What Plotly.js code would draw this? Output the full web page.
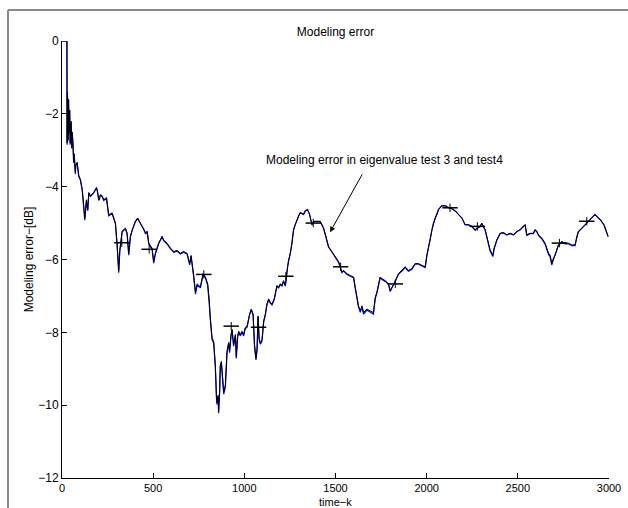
<!DOCTYPE html>
<html>
<head>
<meta charset="utf-8">
<script src="https://cdn.plot.ly/plotly-3.0.1.min.js"></script>
<style>html,body{margin:0;padding:0;background:#fff;}#plot{width:628px;height:508px;}</style>
</head>
<body>
<div id="plot"></div>
<script>
// ---- data ----
const timeK = [0,27,28,30,33,36,39,42,45,48,
50,53,56,60,64,67,70,73,76,83,
92,101,111,119,125,134,141,147,156,174,
189,193,202,211,220,229,244,256,275,284,
293,302,311,317,330,348,357,366,375,385,
403,415,430,448,458,467,476,494,503,512,
530,549,558,576,595,613,631,649,667,686,
700,708,722,732,741,759,774,786,799,808,
814,823,832,837,841,847,850,856,859,865,
868,874,881,887,896,901,905,914,919,927,
933,941,951,956,963,969,978,987,996,1005,
1015,1029,1038,1048,1051,1056,1064,1070,1075,1081,
1088,1097,1106,1115,1124,1133,1142,1152,1164,1172,
1179,1188,1197,1207,1215,1225,1230,1237,1243,1252,
1261,1270,1279,1289,1298,1307,1325,1334,1347,1358,
1371,1380,1398,1416,1435,1453,1462,1481,1499,1517,
1526,1535,1544,1563,1581,1599,1608,1618,1626,1636,
1645,1654,1672,1690,1708,1718,1727,1745,1755,1773,
1791,1800,1818,1827,1845,1864,1882,1900,1919,1937,
1955,1974,1992,2001,2010,2019,2029,2037,2047,2056,
2065,2083,2101,2119,2138,2156,2174,2193,2211,2229,
2248,2266,2275,2293,2302,2311,2321,2330,2339,2348,
2363,2370,2385,2403,2421,2439,2458,2476,2494,2512,
2530,2540,2549,2567,2585,2595,2604,2613,2631,2649,
2659,2668,2677,2686,2695,2704,2713,2722,2741,2759,
2777,2796,2814,2823,2832,2850,2868,2887,2905,2923,
2941,2951,2973,2995];

// eigenvalue test 4 (black)
const errTest4 = [0,0,-2.8,-1.4,-2.7,-1.6,-2.5,-1.9,-2.8,-2.3,
-2.2,-2.9,-2.5,-2.8,-3.3,-3.1,-3.3,-3.6,-3.4,-3.33,
-3.69,-3.8,-4.08,-4.44,-4.86,-4.36,-4.64,-4.16,-4.25,-4.16,
-4.02,-4.08,-4.36,-4.22,-4.25,-4.36,-4.3,-4.77,-4.72,-4.86,
-5.0,-5.55,-6.3,-5.75,-5.22,-5.14,-5.27,-5.83,-5.36,-5.19,
-4.94,-4.86,-5.0,-5.14,-5.27,-5.22,-5.55,-5.69,-6.05,-5.83,
-5.55,-5.36,-5.47,-5.55,-5.69,-5.78,-5.75,-5.83,-5.78,-5.83,
-6.11,-5.89,-6.39,-6.89,-6.67,-6.75,-6.39,-6.47,-6.67,-7.14,
-7.69,-8.15,-8.25,-8.62,-8.9,-9.73,-9.92,-9.73,-10.15,-9.54,
-8.9,-8.8,-9.26,-9.64,-9.45,-8.9,-8.52,-8.28,-8.52,-8.06,
-7.92,-8.34,-8.06,-8.66,-8.11,-7.97,-8.06,-7.97,-8.06,-7.87,
-7.83,-7.5,-7.36,-7.5,-7.87,-8.34,-8.71,-8.43,-7.55,-8.15,
-8.29,-8.2,-7.69,-7.5,-7.22,-7.08,-7.18,-7.22,-7.08,-6.81,
-6.71,-6.76,-6.67,-6.71,-6.58,-6.71,-6.44,-6.2,-6.02,-5.83,
-5.55,-5.18,-5.04,-4.9,-4.81,-4.72,-4.77,-4.67,-4.64,-4.77,
-5.04,-4.95,-4.95,-4.95,-5.14,-5.46,-5.65,-5.79,-5.92,-6.06,
-6.2,-6.34,-6.3,-6.39,-6.44,-6.48,-6.76,-7.04,-7.27,-7.41,
-7.27,-7.46,-7.36,-7.41,-7.46,-7.04,-6.9,-6.48,-6.53,-6.58,
-6.67,-6.85,-6.67,-6.62,-6.39,-6.3,-6.2,-6.3,-6.25,-6.11,
-6.11,-6.16,-6.2,-5.88,-5.69,-5.46,-5.18,-5.0,-4.86,-4.77,
-4.63,-4.53,-4.53,-4.58,-4.61,-4.67,-4.77,-4.86,-5.04,-5.04,
-5.09,-5.18,-5.14,-5.09,-5.0,-5.09,-5.18,-5.37,-5.6,-5.74,
-5.88,-5.69,-5.46,-5.28,-5.26,-5.32,-5.28,-5.32,-5.23,-5.18,
-5.09,-5.04,-5.32,-5.28,-5.28,-5.18,-5.23,-5.32,-5.41,-5.55,
-5.69,-5.83,-5.88,-6.11,-5.97,-5.88,-5.74,-5.6,-5.51,-5.55,
-5.55,-5.6,-5.6,-5.37,-5.23,-5.14,-5.04,-4.95,-4.86,-4.77,
-4.86,-4.9,-5.05,-5.36];

// eigenvalue test 3 (blue), nearly identical, peeks out at the dips
const errTest3 = [0,0,-2.85,-1.45,-2.75,-1.6,-2.55,-1.9,-2.85,-2.3,
-2.25,-2.95,-2.5,-2.85,-3.35,-3.1,-3.35,-3.65,-3.4,-3.35,
-3.72,-3.82,-4.1,-4.48,-4.92,-4.38,-4.66,-4.18,-4.27,-4.17,
-4.04,-4.1,-4.38,-4.24,-4.27,-4.38,-4.32,-4.8,-4.74,-4.88,
-5.02,-5.6,-6.36,-5.78,-5.24,-5.16,-5.3,-5.88,-5.38,-5.2,
-4.96,-4.88,-5.02,-5.16,-5.3,-5.24,-5.58,-5.72,-6.1,-5.85,
-5.57,-5.38,-5.49,-5.57,-5.71,-5.8,-5.77,-5.85,-5.8,-5.85,
-6.15,-5.91,-6.43,-6.95,-6.7,-6.78,-6.41,-6.5,-6.7,-7.2,
-7.75,-8.2,-8.3,-8.68,-8.96,-9.8,-9.98,-9.78,-10.22,-9.6,
-8.95,-8.84,-9.32,-9.7,-9.5,-8.94,-8.56,-8.3,-8.56,-8.1,
-7.95,-8.38,-8.1,-8.72,-8.14,-8.0,-8.1,-8.0,-8.1,-7.9,
-7.86,-7.52,-7.38,-7.52,-7.9,-8.4,-8.76,-8.48,-7.58,-8.2,
-8.33,-8.24,-7.72,-7.53,-7.25,-7.1,-7.2,-7.25,-7.1,-6.83,
-6.73,-6.78,-6.69,-6.73,-6.6,-6.73,-6.46,-6.22,-6.03,-5.84,
-5.56,-5.19,-5.05,-4.9,-4.8,-4.71,-4.76,-4.66,-4.63,-4.76,
-5.05,-4.96,-4.96,-4.96,-5.15,-5.47,-5.66,-5.8,-5.93,-6.08,
-6.22,-6.36,-6.32,-6.41,-6.46,-6.5,-6.78,-7.07,-7.3,-7.45,
-7.3,-7.5,-7.39,-7.44,-7.5,-7.07,-6.92,-6.5,-6.55,-6.6,
-6.69,-6.88,-6.69,-6.64,-6.41,-6.32,-6.22,-6.32,-6.27,-6.13,
-6.13,-6.18,-6.22,-5.9,-5.7,-5.47,-5.19,-5.0,-4.86,-4.76,
-4.62,-4.52,-4.52,-4.57,-4.6,-4.66,-4.76,-4.86,-5.05,-5.05,
-5.1,-5.2,-5.15,-5.1,-5.01,-5.1,-5.2,-5.39,-5.63,-5.77,
-5.92,-5.71,-5.47,-5.29,-5.27,-5.33,-5.29,-5.33,-5.24,-5.19,
-5.1,-5.05,-5.34,-5.29,-5.29,-5.19,-5.24,-5.34,-5.43,-5.57,
-5.72,-5.86,-5.92,-6.15,-6.0,-5.9,-5.76,-5.62,-5.52,-5.57,
-5.57,-5.62,-5.62,-5.38,-5.24,-5.15,-5.05,-4.95,-4.85,-4.76,
-4.86,-4.9,-5.06,-5.38];

// '+' markers visible on the curve
const markK = [328,478,778,928,1078,1228,1378,1528,1828,2128,2278,2728,2878];
const markV = [-5.54,-5.72,-6.41,-7.83,-7.86,-6.46,-5.0,-6.2,-6.67,-4.58,-5.09,-5.55,-4.95];

const xTicks = [0,500,1000,1500,2000,2500,3000];
const yTicks = [-12,-10,-8,-6,-4,-2,0];

const chartTitle = 'Modeling error';
const xTitle = 'time\u2212k';
const yTitle = 'Modeling error\u2212[dB]';
const noteText = 'Modeling error in eigenvalue test 3 and test4';
const noteAt = {k: 1771, v: -3.28};
const arrowTip = {k: 1470, v: -5.25};
const arrowTail = {k: 1651, v: -3.62};

// ---- layout geometry (pixels) ----
const W = 628, H = 508;
const M = {l: 62, r: 19, t: 41, b: 30};
const pw = W - M.l - M.r, ph = H - M.t - M.b;
const pxX = p => (p - M.l) / pw;
const pxY = p => (H - M.b - p) / ph;

const font = 'Liberation Sans, Arial, Helvetica, sans-serif';
const txt = {family: font, size: 12, color: '#000'};
const txtSmall = {family: font, size: 11, color: '#000'};

const traces = [
  {x: timeK, y: errTest3, type: 'scatter', mode: 'lines',
   line: {color: '#0000ff', width: 1.2}, hoverinfo: 'skip', showlegend: false},
  {x: timeK, y: errTest4, type: 'scatter', mode: 'lines',
   line: {color: '#000000', width: 1}, hoverinfo: 'skip', showlegend: false},
  {x: markK, y: markV, type: 'scatter', mode: 'markers',
   marker: {symbol: 'line-ew-open', size: 11, color: '#000', line: {color: '#000', width: 1.5}},
   hoverinfo: 'skip', showlegend: false},
  {x: markK, y: markV, type: 'scatter', mode: 'markers',
   marker: {symbol: 'line-ns-open', size: 6, color: '#000', line: {color: '#000', width: 1}},
   hoverinfo: 'skip', showlegend: false}
];

const layout = {
  width: W, height: H,
  margin: M,
  paper_bgcolor: '#ffffff', plot_bgcolor: '#ffffff',
  font: txt,
  showlegend: false,
  title: {text: chartTitle, font: txt,
          x: 0.5, xref: 'paper', y: 1 - 32 / H, yref: 'container', yanchor: 'middle'},
  xaxis: {range: [0, 3000], tickvals: xTicks, ticks: 'inside', ticklen: 5, tickwidth: 1, tickcolor: '#000',
          showline: true, linecolor: '#000', linewidth: 1, showgrid: false, zeroline: false, mirror: false,
          tickfont: txtSmall},
  yaxis: {range: [-12, 0], tickvals: yTicks, ticks: 'inside', ticklen: 5, tickwidth: 1, tickcolor: '#000',
          showline: true, linecolor: '#000', linewidth: 1, showgrid: false, zeroline: false, mirror: false,
          tickfont: txt,
          title: {text: yTitle, font: txt, standoff: 2}},
  shapes: [
    {type: 'line', xref: 'paper', yref: 'paper', x0: pxX(8), x1: pxX(W), y0: pxY(10), y1: pxY(10),
     line: {color: '#8a8a8a', width: 2}},
    {type: 'line', xref: 'paper', yref: 'paper', x0: pxX(8), x1: pxX(8), y0: pxY(10), y1: pxY(H),
     line: {color: '#8a8a8a', width: 2}}
  ],
  annotations: [
    {x: 0.5, y: pxY(502), xref: 'paper', yref: 'paper', text: xTitle, showarrow: false,
     font: txtSmall, xanchor: 'center', yanchor: 'middle'},
    {x: noteAt.k, y: noteAt.v, xref: 'x', yref: 'y', text: noteText, showarrow: false,
     font: txt, xanchor: 'center', yanchor: 'middle'},
    {x: arrowTip.k, y: arrowTip.v, xref: 'x', yref: 'y', ax: arrowTail.k, ay: arrowTail.v,
     axref: 'x', ayref: 'y', text: '', showarrow: true, arrowhead: 2, arrowsize: 1.1,
     arrowwidth: 1, arrowcolor: '#000', standoff: 0, startstandoff: 0}
  ]
};

Plotly.newPlot('plot', traces, layout, {staticPlot: true, displayModeBar: false});
</script>
</body>
</html>
